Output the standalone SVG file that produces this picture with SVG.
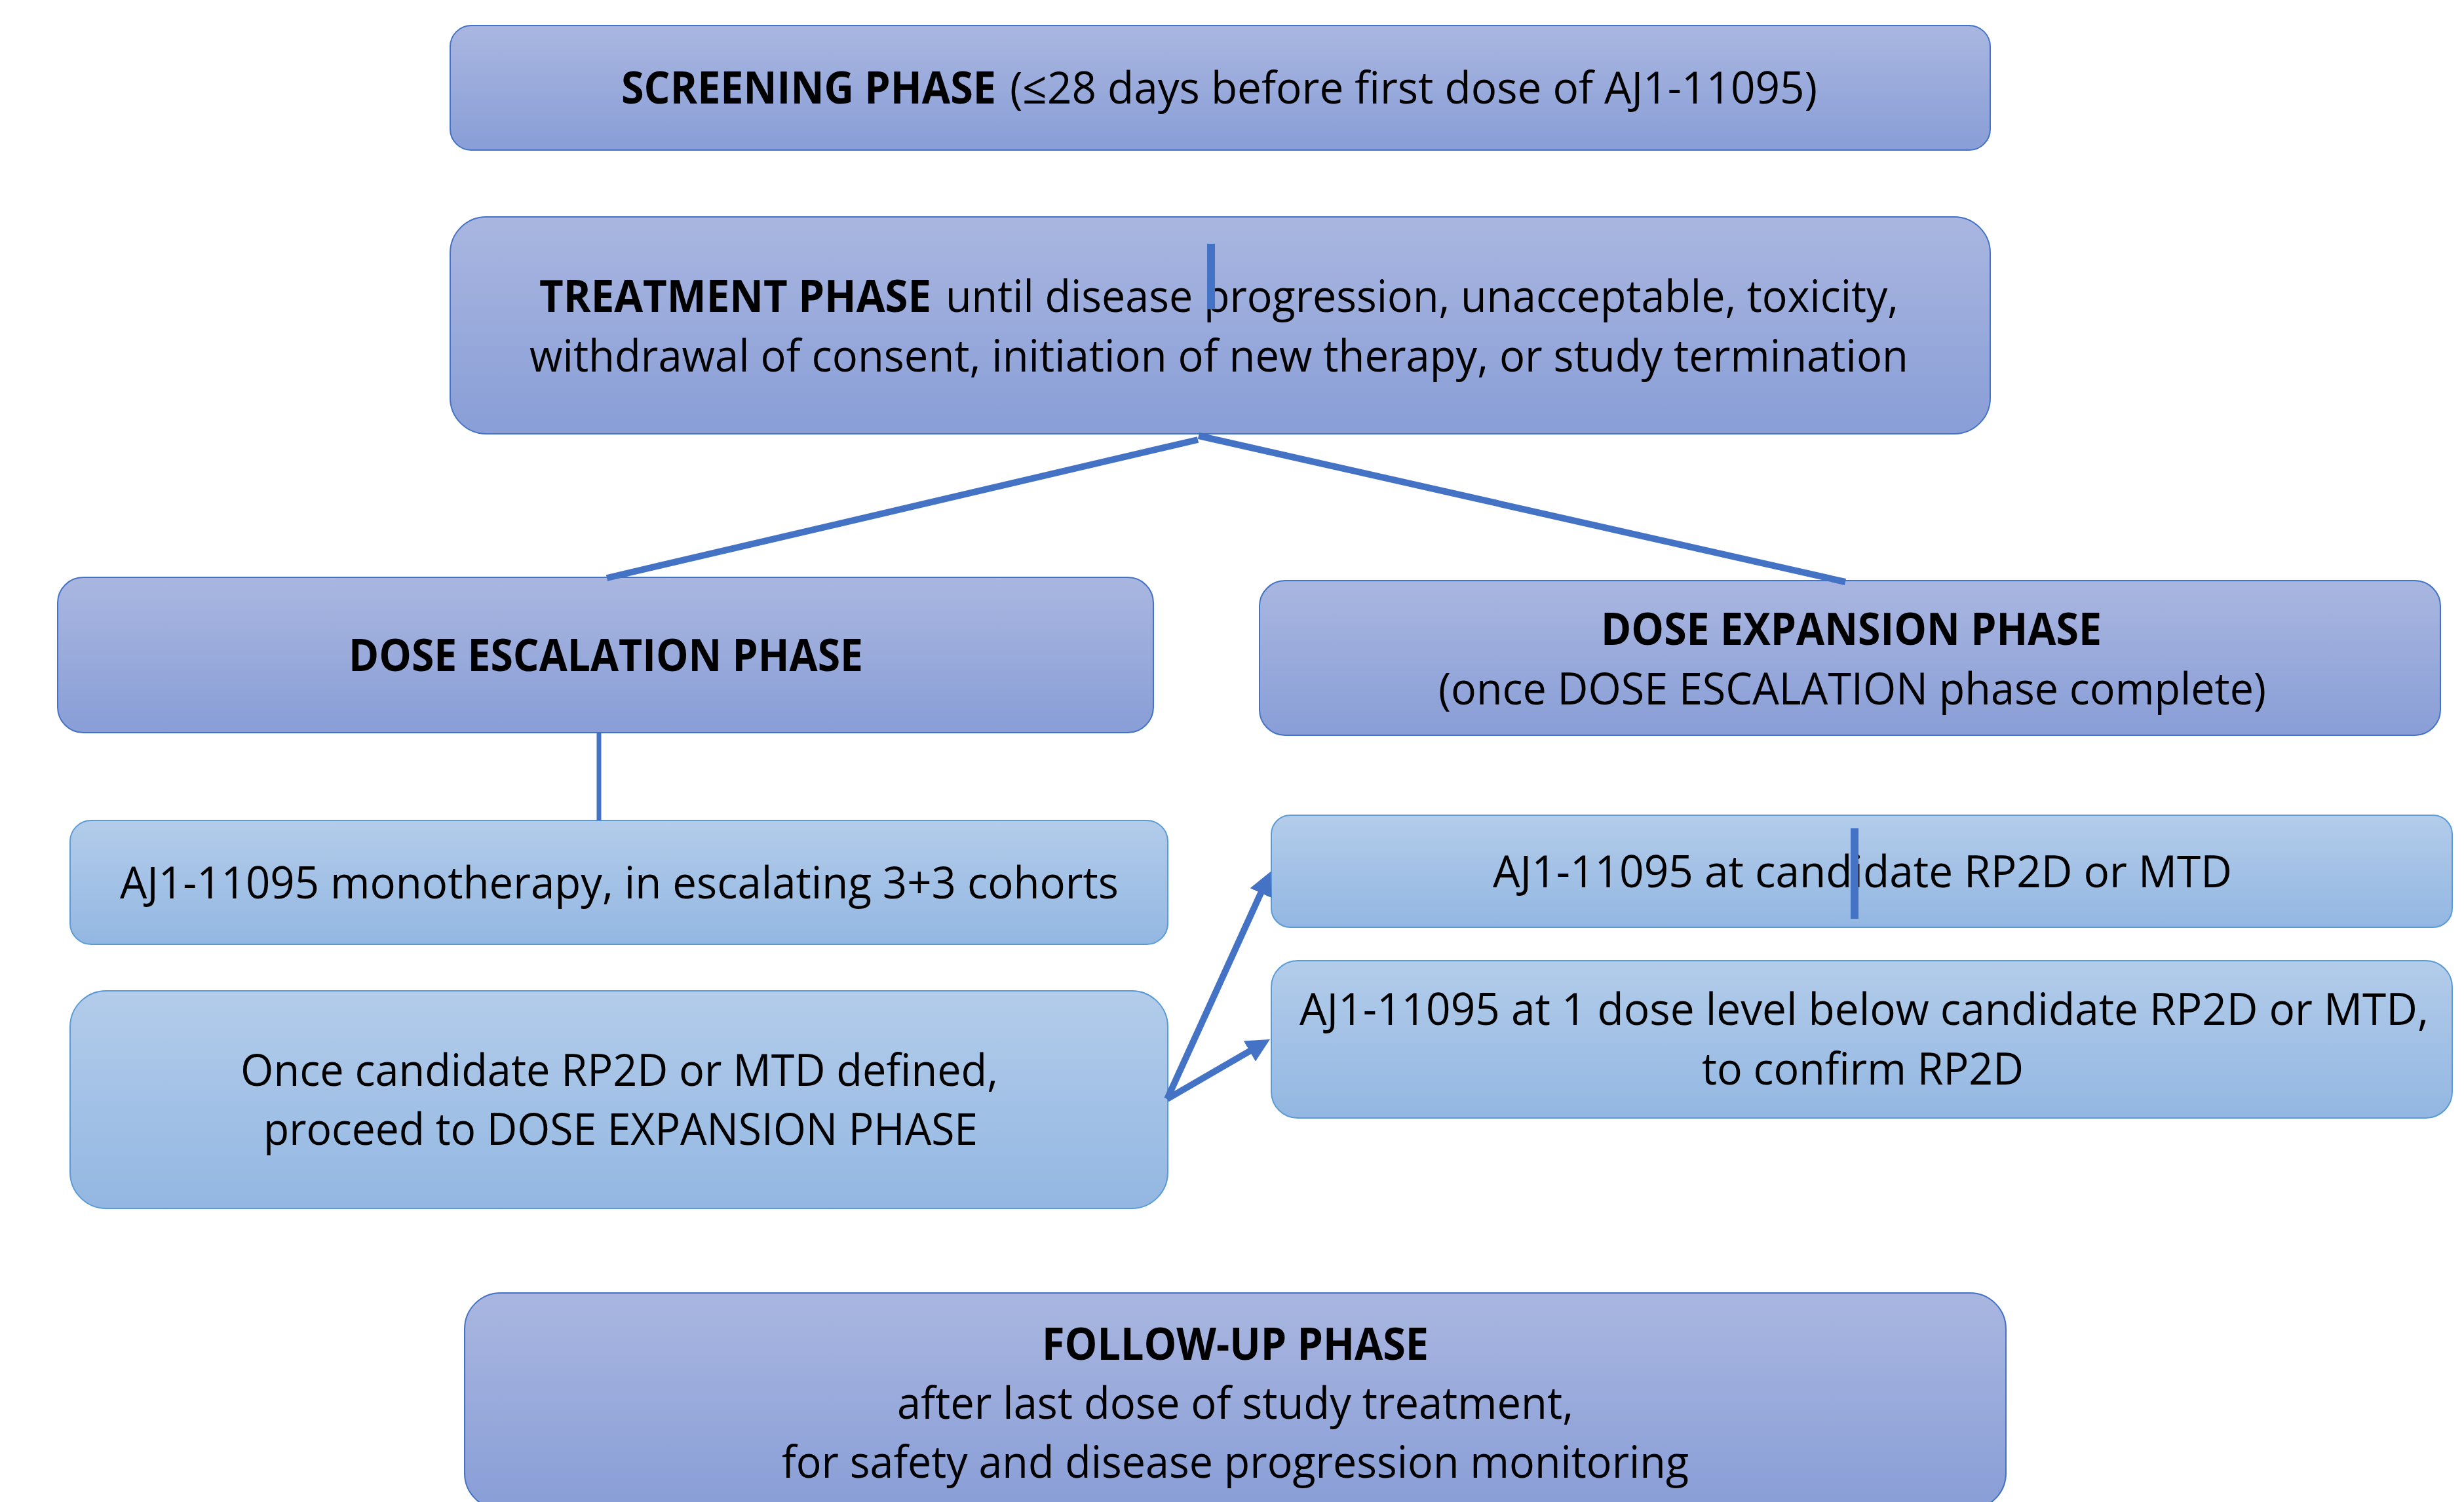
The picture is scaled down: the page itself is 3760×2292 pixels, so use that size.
<svg xmlns="http://www.w3.org/2000/svg" width="3760" height="2292" viewBox="0 0 3760 2292">
<defs>
<linearGradient id="gPhase" x1="0" y1="0" x2="0" y2="1">
<stop offset="0" stop-color="#A9B6E0"/>
<stop offset="1" stop-color="#899ED7"/>
</linearGradient>
<linearGradient id="gStep" x1="0" y1="0" x2="0" y2="1">
<stop offset="0" stop-color="#B3CCEA"/>
<stop offset="1" stop-color="#93B7E2"/>
</linearGradient>
<marker id="arrow" markerUnits="userSpaceOnUse" markerWidth="36" markerHeight="36" refX="6" refY="18" orient="auto">
<path d="M0,0 L36,18 L0,36 z" fill="#4472C4"/>
</marker>
<style>
.phase{fill:url(#gPhase);stroke:#4472C4;stroke-width:2}
.step{fill:url(#gStep);stroke:#5B9BD5;stroke-width:2}
text{font-family:"Open Sans","Noto Sans","Liberation Sans",sans-serif;font-size:68px;fill:#000}
.b{font-weight:bold}
.ln{stroke:#4472C4;fill:none;stroke-linecap:butt}
.bar{fill:#4472C4}
</style>
</defs>
<rect width="3760" height="2292" fill="#FFFFFF"/>

<g id="screening">
<rect class="phase" x="687" y="39" width="2350" height="190" rx="32" ry="32"/>
<text class="b" x="948" y="158" textLength="572" lengthAdjust="spacingAndGlyphs">SCREENING PHASE</text>
<text x="1541" y="158" textLength="1232" lengthAdjust="spacingAndGlyphs">(≤28 days before first dose of AJ1-11095)</text>
</g>

<g id="treatment">
<rect class="phase" x="687" y="331" width="2350" height="331" rx="55" ry="55"/>
<text class="b" x="823" y="476" textLength="598" lengthAdjust="spacingAndGlyphs">TREATMENT PHASE</text>
<text x="1443" y="476" textLength="1454" lengthAdjust="spacingAndGlyphs">until disease progression, unacceptable, toxicity,</text>
<text x="808" y="567" textLength="2104" lengthAdjust="spacingAndGlyphs">withdrawal of consent, initiation of new therapy, or study termination</text>
<rect class="bar" x="1842" y="372" width="12" height="100"/>
</g>

<g id="escalation">
<rect class="phase" x="88" y="881" width="1672" height="237" rx="39" ry="39"/>
<text class="b" x="532" y="1024" textLength="785" lengthAdjust="spacingAndGlyphs">DOSE ESCALATION PHASE</text>
</g>

<g id="expansion">
<rect class="phase" x="1922" y="886" width="1802" height="236" rx="39" ry="39"/>
<text class="b" x="2443" y="984" textLength="764" lengthAdjust="spacingAndGlyphs">DOSE EXPANSION PHASE</text>
<text x="2195" y="1075" textLength="1263" lengthAdjust="spacingAndGlyphs">(once DOSE ESCALATION phase complete)</text>
</g>

<g id="monotherapy">
<rect class="step" x="107" y="1252" width="1675" height="189" rx="32" ry="32"/>
<text x="183" y="1371" textLength="1524" lengthAdjust="spacingAndGlyphs">AJ1-11095 monotherapy, in escalating 3+3 cohorts</text>
</g>

<g id="proceed">
<rect class="step" x="107" y="1512" width="1675" height="332" rx="55" ry="55"/>
<text x="367" y="1657" textLength="1156" lengthAdjust="spacingAndGlyphs">Once candidate RP2D or MTD defined,</text>
<text x="402" y="1747" textLength="1090" lengthAdjust="spacingAndGlyphs">proceed to DOSE EXPANSION PHASE</text>
</g>

<g id="rp2d">
<rect class="step" x="1940" y="1244" width="1802" height="171" rx="29" ry="29"/>
<text x="2278" y="1354" textLength="1128" lengthAdjust="spacingAndGlyphs">AJ1-11095 at candidate RP2D or MTD</text>
<rect class="bar" x="2824" y="1264" width="12" height="138"/>
</g>

<g id="below">
<rect class="step" x="1940" y="1466" width="1802" height="240" rx="40" ry="40"/>
<text x="1983" y="1564" textLength="1723" lengthAdjust="spacingAndGlyphs">AJ1-11095 at 1 dose level below candidate RP2D or MTD,</text>
<text x="2597" y="1655" textLength="491" lengthAdjust="spacingAndGlyphs">to confirm RP2D</text>
</g>

<g id="followup">
<rect class="phase" x="709" y="1973" width="2352" height="330" rx="55" ry="55"/>
<text class="b" x="1590" y="2075" textLength="590" lengthAdjust="spacingAndGlyphs">FOLLOW-UP PHASE</text>
<text x="1369" y="2165" textLength="1032" lengthAdjust="spacingAndGlyphs">after last dose of study treatment,</text>
<text x="1193" y="2255" textLength="1384" lengthAdjust="spacingAndGlyphs">for safety and disease progression monitoring</text>
</g>

<g id="connectors">
<line class="ln" x1="926" y1="882" x2="1828" y2="671" stroke-width="10"/>
<line class="ln" x1="1829" y1="665" x2="2816" y2="888" stroke-width="10"/>
<line class="ln" x1="914" y1="1118" x2="914" y2="1252" stroke-width="7"/>
<line class="ln" x1="1781" y1="1677" x2="1926.5" y2="1357.3" stroke-width="10" marker-end="url(#arrow)"/>
<line class="ln" x1="1781" y1="1677" x2="1912" y2="1601" stroke-width="10" marker-end="url(#arrow)"/>
</g>
</svg>
